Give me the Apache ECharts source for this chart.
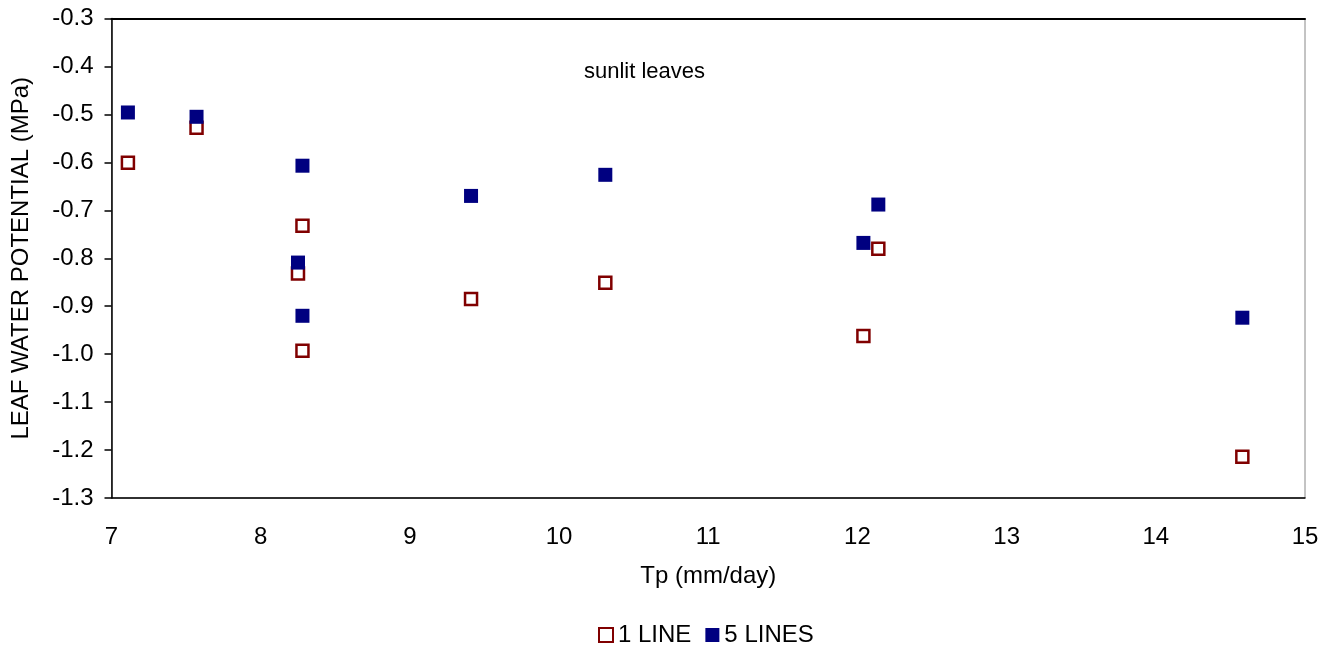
<!DOCTYPE html>
<html>
<head>
<meta charset="utf-8">
<script src="https://cdn.jsdelivr.net/npm/echarts@6/dist/echarts.min.js"></script>
<style>
  html, body { margin: 0; padding: 0; background: #fff; }
  #chart { width: 1340px; height: 656px; }
</style>
</head>
<body>
<div id="chart"></div>
<script>
// Tp (mm/day) vs leaf water potential (MPa), sunlit leaves
const tpValues = [7.11, 7.57, 8.28, 8.25, 8.28, 9.41, 10.31, 12.04, 12.14, 14.58];
const oneLine = [-0.601, -0.528, -0.732, -0.832, -0.993, -0.885, -0.851, -0.962, -0.780, -1.214];
const fiveLinesTp = [7.11, 7.57, 8.28, 8.25, 8.28, 9.41, 10.31, 12.04, 12.14, 14.58];
const fiveLines = [-0.496, -0.505, -0.607, -0.809, -0.920, -0.670, -0.626, -0.768, -0.688, -0.924];

const FONT = "Liberation Sans, Arial, sans-serif";

(function () {
  const chart = echarts.init(document.getElementById("chart"), null, { renderer: "canvas" });

  const pairs = (xs, ys) => xs.map((x, i) => [x, ys[i]]);

  const option = {
    animation: false,
    backgroundColor: "#fff",
    textStyle: { fontFamily: FONT },

    title: {
      text: "sunlit leaves",
      left: 579,
      top: 56,
      textStyle: { fontFamily: FONT, fontSize: 22, fontWeight: "normal", color: "#000" }
    },

    grid: {
      left: 111.5,
      right: 35,
      top: 18.5,
      bottom: 158,
      containLabel: false,
      show: true,
      borderColor: "#888",
      borderWidth: 1
    },

    legend: {
      bottom: 4,
      left: 593,
      itemWidth: 14,
      itemHeight: 14,
      itemGap: 14,
      textStyle: { fontFamily: FONT, fontSize: 24, color: "#000" },
      data: ["1 LINE", "5 LINES"]
    },

    xAxis: [
      {
        type: "value",
        min: 7,
        max: 15,
        interval: 1,
        name: "Tp (mm/day)",
        nameLocation: "middle",
        nameGap: 66,
        nameTextStyle: { fontFamily: FONT, fontSize: 24, color: "#000" },
        axisLine: { show: true, onZero: false, lineStyle: { color: "#000", width: 1.5 } },
        axisTick: { show: false },
        axisLabel: { fontFamily: FONT, fontSize: 24, color: "#000", margin: 27 },
        splitLine: { show: false }
      },
      {
        type: "value",
        position: "top",
        min: 7,
        max: 15,
        axisLine: { show: true, lineStyle: { color: "#000", width: 2 } },
        axisTick: { show: false },
        axisLabel: { show: false },
        splitLine: { show: false }
      }
    ],

    yAxis: {
      type: "value",
      min: -1.3,
      max: -0.3,
      interval: 0.1,
      name: "LEAF WATER POTENTIAL (MPa)",
      nameLocation: "middle",
      nameGap: 78,
      nameTextStyle: { fontFamily: FONT, fontSize: 24, color: "#000" },
      axisLine: { show: true, onZero: false, lineStyle: { color: "#000", width: 1.5 } },
      axisTick: { show: true, length: 7, lineStyle: { color: "#000", width: 1.5 } },
      axisLabel: {
        fontFamily: FONT,
        fontSize: 24,
        color: "#000",
        margin: 18,
        formatter: v => v.toFixed(1)
      },
      splitLine: { show: false }
    },

    series: [
      {
        name: "1 LINE",
        type: "scatter",
        symbol: "rect",
        symbolSize: 12,
        data: pairs(tpValues, oneLine),
        itemStyle: { color: "#fff", borderColor: "#800000", borderWidth: 2.5, opacity: 1 },
        emphasis: { disabled: true },
        z: 2
      },
      {
        name: "5 LINES",
        type: "scatter",
        symbol: "rect",
        symbolSize: 14,
        data: pairs(fiveLinesTp, fiveLines),
        itemStyle: { color: "#000080", opacity: 1 },
        emphasis: { disabled: true },
        z: 3
      }
    ]
  };

  chart.setOption(option, true);
})();
</script>
</body>
</html>
